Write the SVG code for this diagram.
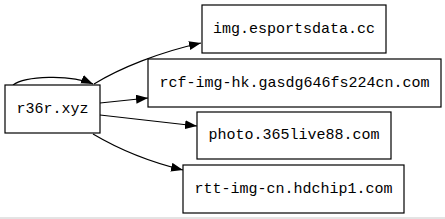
<svg xmlns="http://www.w3.org/2000/svg" width="445" height="219" viewBox="0 0 445 219">
<style>
.node rect{fill:#fff;stroke:#000;stroke-width:1.2}
.node text{font-family:"Liberation Mono","DejaVu Sans Mono",monospace;font-size:15px;fill:#000;text-anchor:middle;dominant-baseline:central}
.edge{fill:none;stroke:#000;stroke-width:1.2}
</style>
<defs>
<marker id="ah" markerUnits="userSpaceOnUse" markerWidth="13" markerHeight="10" refX="12" refY="4.5" orient="auto"><polygon points="0,0 12,4.5 0,9" fill="#000"/></marker>
</defs>
<rect width="445" height="219" fill="#fff"/>
<line x1="0" y1="218" x2="445" y2="218" stroke="#c8c8c8" stroke-width="1"/>
<g id="connectors">
<path class="edge" d="M13,85 C25,76 70,74 93,84" marker-end="url(#ah)"/>
<path class="edge" d="M94,84 C120,68 160,52 201,43" marker-end="url(#ah)"/>
<path class="edge" d="M100,103 L148,98" marker-end="url(#ah)"/>
<path class="edge" d="M100,115 L197,126" marker-end="url(#ah)"/>
<path class="edge" d="M93,134 C120,150 150,162 183,170" marker-end="url(#ah)"/>
</g>
<g id="n-r36r" class="node"><rect x="5" y="85" width="95" height="48"/><text x="52.5" y="109">r36r.xyz</text></g>
<g id="n-esports" class="node"><rect x="202" y="5" width="184" height="48"/><text x="294" y="29">img.esportsdata.cc</text></g>
<g id="n-rcf" class="node"><rect x="148" y="59" width="293" height="48"/><text x="294.5" y="83">rcf-img-hk.gasdg646fs224cn.com</text></g>
<g id="n-photo" class="node"><rect x="197" y="112" width="194" height="47"/><text x="294" y="135.5">photo.365live88.com</text></g>
<g id="n-rtt" class="node"><rect x="183" y="165" width="221" height="48"/><text x="293.5" y="189">rtt-img-cn.hdchip1.com</text></g>
</svg>
